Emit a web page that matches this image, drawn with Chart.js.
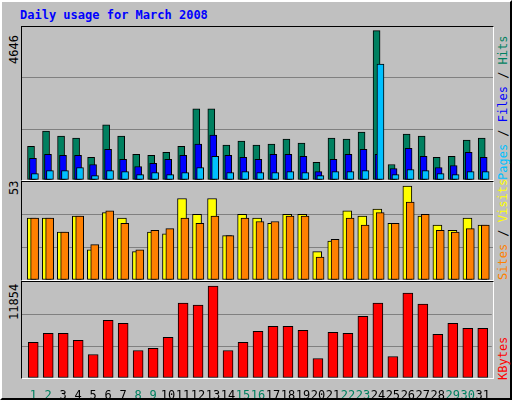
<!DOCTYPE html>
<html>
<head>
<meta charset="utf-8">
<script src="https://cdn.jsdelivr.net/npm/chart.js@4"></script>
<style>
	body { margin:0; background:#fff; }
	#frame { position:absolute; left:0; top:0; width:508px; height:396px; background:#c0c0c0;
		border:2px solid; border-color:#fff #000 #000 #fff; font-family:'DejaVu Sans Mono',monospace; }
	.panel { position:absolute; left:19px; width:471px; border-left:1px solid #000; border-top:1px solid #000;
		border-right:1px solid #fff; border-bottom:1px solid #fff; }
	canvas { position:absolute; left:0; top:0; }
	.rot { position:absolute; transform-origin:0 0; transform:rotate(-90deg); white-space:nowrap; font-size:12px; }
	#title { position:absolute; left:18px; top:6px; color:#0000ff; font-weight:bold; font-size:12px; }
</style>
</head>
<body>
<div id="frame">
	<div id="title">Daily usage for March 2008</div>
	<div class="panel" style="top:24px;height:153px"><canvas id="c1" width="471" height="153"></canvas></div>
	<div class="panel" style="top:179px;height:98px"><canvas id="c2" width="471" height="98"></canvas></div>
	<div class="panel" style="top:279px;height:96px"><canvas id="c3" width="471" height="116" style="z-index:2"></canvas></div>
	<div class="rot" style="left:5px;top:62px">4646</div>
	<div class="rot" style="left:5px;top:193px">53</div>
	<div class="rot" style="left:5px;top:318px">11854</div>
	<div class="rot" style="left:494px;top:178px"><span style="color:#00c0ff">Pages</span> / <span style="color:#0000ff">Files</span> / <span style="color:#008060">Hits</span></div>
	<div class="rot" style="left:494px;top:278px"><span style="color:#ff8000">Sites</span> / <span style="color:#ffff00">Visits</span></div>
	<div class="rot" style="left:494px;top:378px"><span style="color:#ff0000">KBytes</span></div>
</div>
<script>
var days    = [1,2,3,4,5,6,7,8,9,10,11,12,13,14,15,16,17,18,19,20,21,22,23,24,25,26,27,28,29,30,31];
var weekend = [1,2,8,9,15,16,22,23,29,30];

var hits   = [1051,1524,1366,1303,704,1713,1366,799,767,862,1051,2218,2218,1083,1209,1083,1114,1272,1146,547,1303,1272,1492,4646,483,1429,1366,704,736,1240,1303];
var files  = [673,799,767,767,483,956,641,420,515,641,767,1114,1398,767,704,641,799,799,736,263,641,799,956,799,357,988,736,389,452,862,704];
var pages  = [200,294,294,389,137,294,263,168,231,168,231,389,736,231,263,231,231,263,231,137,263,263,294,3605,168,326,294,200,168,263,263];
var visits = [35,35,27,36,17,38,35,16,27,26,46,37,46,25,37,35,32,37,37,16,22,39,36,40,32,53,36,31,28,35,31];
var sites  = [35,35,27,36,20,39,32,17,28,29,35,32,36,25,35,33,33,36,36,13,23,35,31,38,32,44,37,28,27,29,31];
var kbytes = [4586,5754,5754,4845,3028,7441,7051,3547,3807,5234,9647,9387,11854,3547,4586,6013,6662,6662,6143,2509,5883,5754,7960,9647,2769,10945,9517,5624,7051,6402,6402];

var bars = (label, values, offset, color, width, order) => ({
	label           : label,
	data            : values.map((v, i) => ({ x : days[i] + offset, y : v })),
	backgroundColor : color,
	borderColor     : '#000',
	borderWidth     : 1,
	borderSkipped   : false,
	barThickness    : width,
	grouped         : false,
	order           : order
});

var makeChart = (id, datasets, max, showDays) => new Chart(document.getElementById(id), {
	type : 'bar',
	data : { datasets : datasets },
	options : {
		responsive : false,
		animation  : false,
		layout     : { padding : 0 },
		plugins    : { legend : { display : false }, tooltip : { enabled : false } },
		scales : {
			x : {
				type    : 'linear',
				offset  : false,
				min     : 0.25,
				max     : 31.6,
				display : showDays,
				grid    : { display : false },
				border  : { display : false },
				afterBuildTicks : s => { s.ticks = days.map(d => ({ value : d })); },
				afterFit : s => { s.height = showDays ? 20 : 0; },
				ticks : {
					autoSkip : false,
					maxRotation : 0,
					padding  : 3,
					font     : { family : 'DejaVu Sans Mono', size : 12 },
					color    : c => weekend.includes(c.tick.value) ? '#008060' : '#000'
				}
			},
			y : {
				min : 0,
				max : max,
				afterBuildTicks : s => { s.ticks = [0, 1, 2, 3].map(k => ({ value : max * k / 3 })); },
				afterFit : s => { s.width = 0; },
				ticks  : { display : false },
				border : { display : false },
				grid   : { color : c => (c.index == 1 || c.index == 2) ? '#808080' : 'rgba(0,0,0,0)', lineWidth : 1, drawTicks : false }
			}
		}
	}
});

makeChart('c1', [
	bars('Hits',  hits,  -0.15, '#008060', 7, 3),
	bars('Files', files, -0.02, '#0000ff', 7, 2),
	bars('Pages', pages,  0.11, '#00c0ff', 7, 1)
], 4760, false);

makeChart('c2', [
	bars('Visits', visits, -0.1, '#ffff00', 9, 2),
	bars('Sites',  sites,  0.09, '#ff8000', 8, 1)
], 55.3, false);

makeChart('c3', [
	bars('KBytes', kbytes, 0, '#ff0000', 10, 1)
], 12370, true);
</script>
</body>
</html>
